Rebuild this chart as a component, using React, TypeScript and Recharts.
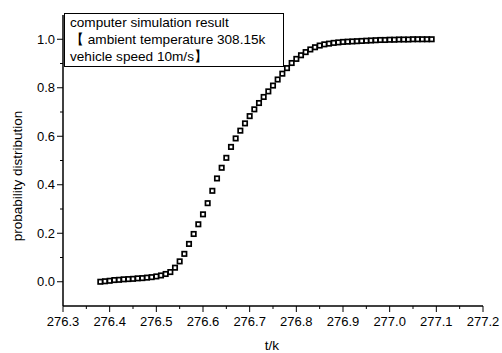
import React from 'react';
import { ScatterChart, Scatter, XAxis, YAxis } from 'recharts';

const temps = [
  276.38, 276.39, 276.40, 276.41, 276.42, 276.43, 276.44, 276.45, 276.46, 276.47,
  276.48, 276.49, 276.50, 276.51, 276.52, 276.53, 276.54, 276.55, 276.56, 276.57,
  276.58, 276.59, 276.60, 276.61, 276.62, 276.63, 276.64, 276.65, 276.66, 276.67,
  276.68, 276.69, 276.70, 276.71, 276.72, 276.73, 276.74, 276.75, 276.76, 276.77,
  276.78, 276.79, 276.80, 276.81, 276.82, 276.83, 276.84, 276.85, 276.86, 276.87,
  276.88, 276.89, 276.90, 276.91, 276.92, 276.93, 276.94, 276.95, 276.96, 276.97,
  276.98, 276.99, 277.00, 277.01, 277.02, 277.03, 277.04, 277.05, 277.06, 277.07,
  277.08, 277.09,
];

const probs = [
  0.000, 0.002, 0.004, 0.007, 0.008, 0.010, 0.011, 0.012, 0.014, 0.015,
  0.017, 0.019, 0.022, 0.026, 0.032, 0.040, 0.058, 0.084, 0.115, 0.156,
  0.197, 0.237, 0.278, 0.324, 0.375, 0.426, 0.470, 0.511, 0.556, 0.591,
  0.623, 0.653, 0.683, 0.711, 0.737, 0.762, 0.785, 0.809, 0.834, 0.858,
  0.881, 0.902, 0.919, 0.934, 0.947, 0.958, 0.967, 0.974, 0.979, 0.982,
  0.985, 0.987, 0.989, 0.990, 0.991, 0.992, 0.993, 0.994, 0.995, 0.996,
  0.997, 0.997, 0.998, 0.998, 0.999, 0.999, 0.999, 1.000, 1.000, 1.000,
  1.000, 1.000,
];

const xTicks = [
  276.3, 276.35, 276.4, 276.45, 276.5, 276.55, 276.6, 276.65, 276.7, 276.75,
  276.8, 276.85, 276.9, 276.95, 277.0, 277.05, 277.1, 277.15, 277.2,
];
const yTicks = [0.0, 0.1, 0.2, 0.3, 0.4, 0.5, 0.6, 0.7, 0.8, 0.9, 1.0];

const legendLines = [
  'computer simulation result',
  '【 ambient temperature 308.15k',
  'vehicle speed 10m/s】',
];

const FONT = '"Liberation Sans", Arial, sans-serif';

const data = temps.map((t, i) => ({ t, p: probs[i] }));

const isMajorX = (v: number) => Math.abs(v * 10 - Math.round(v * 10)) < 1e-6;
const isMajorY = (v: number) => Math.abs(v * 5 - Math.round(v * 5)) < 1e-6;

const XTick = (props: any) => {
  const { x, y, payload } = props;
  const v = payload.value as number;
  const major = isMajorX(v);
  return (
    <g>
      <line x1={x} x2={x} y1={y} y2={y + (major ? 6 : 3)} stroke="#000" strokeWidth={1} />
      {major && (
        <text x={x} y={y + 20} textAnchor="middle" fontSize={13} fontFamily={FONT} fill="#000">
          {v.toFixed(1)}
        </text>
      )}
    </g>
  );
};

const YTick = (props: any) => {
  const { x, y, payload } = props;
  const v = payload.value as number;
  const major = isMajorY(v);
  return (
    <g>
      <line x1={x - (major ? 6 : 3)} x2={x} y1={y} y2={y} stroke="#000" strokeWidth={1} />
      {major && (
        <text x={x - 8} y={y + 4.5} textAnchor="end" fontSize={13} fontFamily={FONT} fill="#000">
          {v.toFixed(1)}
        </text>
      )}
    </g>
  );
};

const SquareMarker = (props: any) => {
  const { cx, cy } = props;
  if (cx == null || cy == null) return null;
  return (
    <rect x={cx - 2.2} y={cy - 2.2} width={4.4} height={4.4} fill="#fff" stroke="#000" strokeWidth={1.7} />
  );
};

export default function App() {
  return (
    <div style={{ position: 'absolute', left: 0, top: 0, width: 502, height: 353, background: '#fff' }}>
      <ScatterChart width={502} height={353} margin={{ top: 15, right: 19, bottom: 0, left: 0 }}>
        <XAxis
          dataKey="t"
          type="number"
          domain={[276.3, 277.2]}
          ticks={xTicks}
          interval={0}
          allowDataOverflow
          height={47}
          tickSize={0}
          tickMargin={0}
          tickLine={false}
          tick={<XTick />}
          axisLine={{ stroke: '#000', strokeWidth: 1.5 }}
        />
        <YAxis
          dataKey="p"
          type="number"
          domain={[-0.1, 1.1]}
          ticks={yTicks}
          interval={0}
          allowDataOverflow
          width={63}
          tickSize={0}
          tickMargin={0}
          tickLine={false}
          tick={<YTick />}
          axisLine={{ stroke: '#000', strokeWidth: 1.5 }}
        />
        <Scatter data={data} shape={<SquareMarker />} isAnimationActive={false} />
      </ScatterChart>
      <div
        style={{
          position: 'absolute',
          left: 64,
          top: 13,
          width: 220,
          height: 54,
          border: '1px solid #000',
          background: '#fff',
          fontFamily: FONT,
          fontSize: 13.6,
          lineHeight: '17px',
          paddingLeft: 5,
          boxSizing: 'border-box',
          color: '#000',
          whiteSpace: 'nowrap',
        }}
      >
        {legendLines.map((l) => (
          <div key={l}>{l}</div>
        ))}
      </div>
      <div
        style={{
          position: 'absolute',
          left: 272,
          top: 345,
          transform: 'translate(-50%, -50%)',
          fontFamily: FONT,
          fontSize: 13.5,
          color: '#000',
        }}
      >
        t/k
      </div>
      <div
        style={{
          position: 'absolute',
          left: 17,
          top: 176,
          transform: 'translate(-50%, -50%) rotate(-90deg)',
          fontFamily: FONT,
          fontSize: 13.5,
          color: '#000',
          whiteSpace: 'nowrap',
        }}
      >
        probability distribution
      </div>
    </div>
  );
}
